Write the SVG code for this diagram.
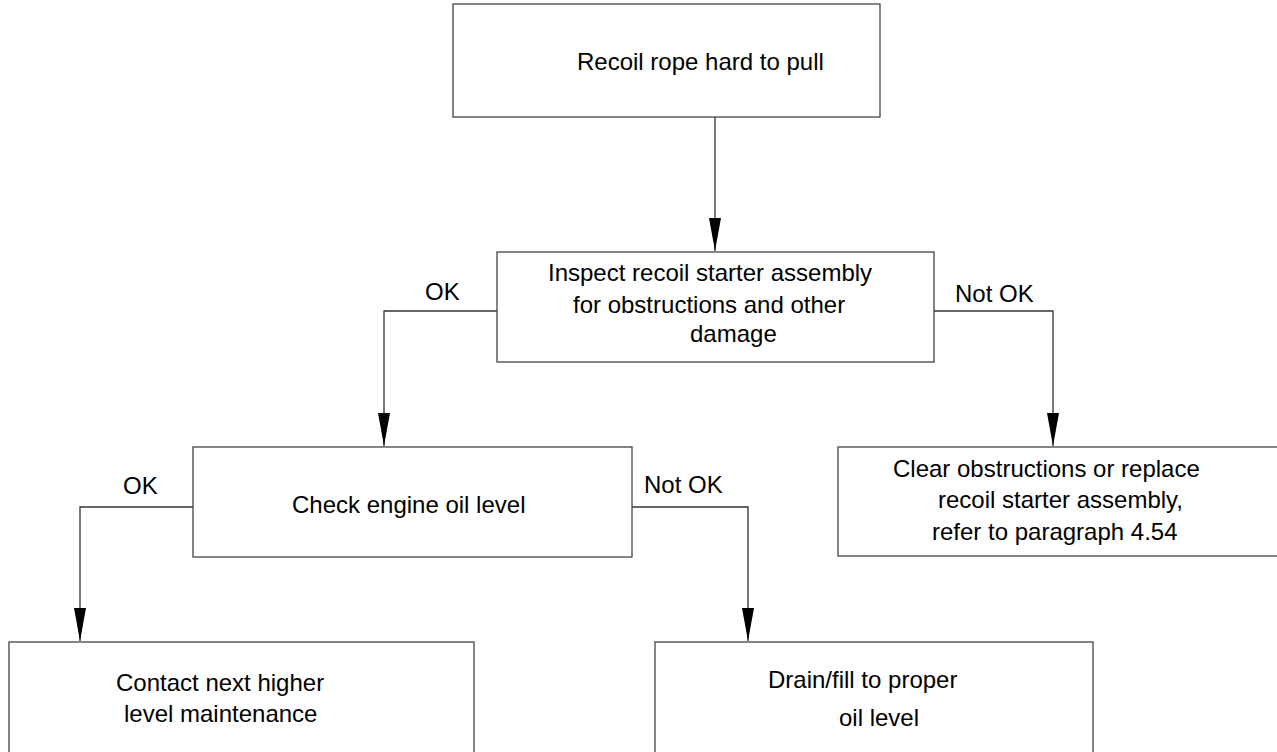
<svg xmlns="http://www.w3.org/2000/svg" width="1277" height="752" viewBox="0 0 1277 752">
  <style>
    .box { fill: #ffffff; stroke: #444444; stroke-width: 1.3; }
    .wire { fill: none; stroke: #333333; stroke-width: 1.3; }
    text { font-family: "Liberation Sans", Arial, sans-serif; font-size: 24px; fill: #000000; }
  </style>
  <defs>
    <marker id="arrow" markerUnits="userSpaceOnUse" markerWidth="34" markerHeight="12" refX="33" refY="6" orient="auto">
      <path d="M0,0 L33,6 L0,12 z" fill="#000000"/>
    </marker>
  </defs>
  <rect width="1277" height="752" fill="#ffffff"/>

  <!-- connectors with their branch labels -->
  <g id="connectors">
    <path class="wire" d="M715,117 L715,251" marker-end="url(#arrow)"/>
    <path class="wire" d="M497,311 L384,311 L384,446" marker-end="url(#arrow)"/>
    <path class="wire" d="M934,311 L1053,311 L1053,446" marker-end="url(#arrow)"/>
    <path class="wire" d="M193,507 L80,507 L80,641" marker-end="url(#arrow)"/>
    <path class="wire" d="M632,507 L748,507 L748,641" marker-end="url(#arrow)"/>
    <text x="425" y="300">OK</text>
    <text x="955" y="302">Not OK</text>
    <text x="123" y="494">OK</text>
    <text x="644" y="493">Not OK</text>
  </g>

  <g id="start">
    <rect class="box" x="453" y="4" width="427" height="113"/>
    <text x="577" y="70">Recoil rope hard to pull</text>
  </g>

  <g id="inspect">
    <rect class="box" x="497" y="252" width="437" height="110"/>
    <text x="548" y="281">Inspect recoil starter assembly</text>
    <text x="573" y="313">for obstructions and other</text>
    <text x="690" y="342">damage</text>
  </g>

  <g id="check-oil">
    <rect class="box" x="193" y="447" width="439" height="110"/>
    <text x="292" y="513">Check engine oil level</text>
  </g>

  <g id="clear">
    <rect class="box" x="838" y="447" width="460" height="109"/>
    <text x="893" y="477">Clear obstructions or replace</text>
    <text x="938" y="508">recoil starter assembly,</text>
    <text x="932" y="540">refer to paragraph 4.54</text>
  </g>

  <g id="contact">
    <rect class="box" x="9" y="642" width="465" height="130"/>
    <text x="116" y="691">Contact next higher</text>
    <text x="124" y="722">level maintenance</text>
  </g>

  <g id="drain">
    <rect class="box" x="655" y="642" width="438" height="130"/>
    <text x="768" y="688">Drain/fill to proper</text>
    <text x="839" y="726">oil level</text>
  </g>
</svg>
